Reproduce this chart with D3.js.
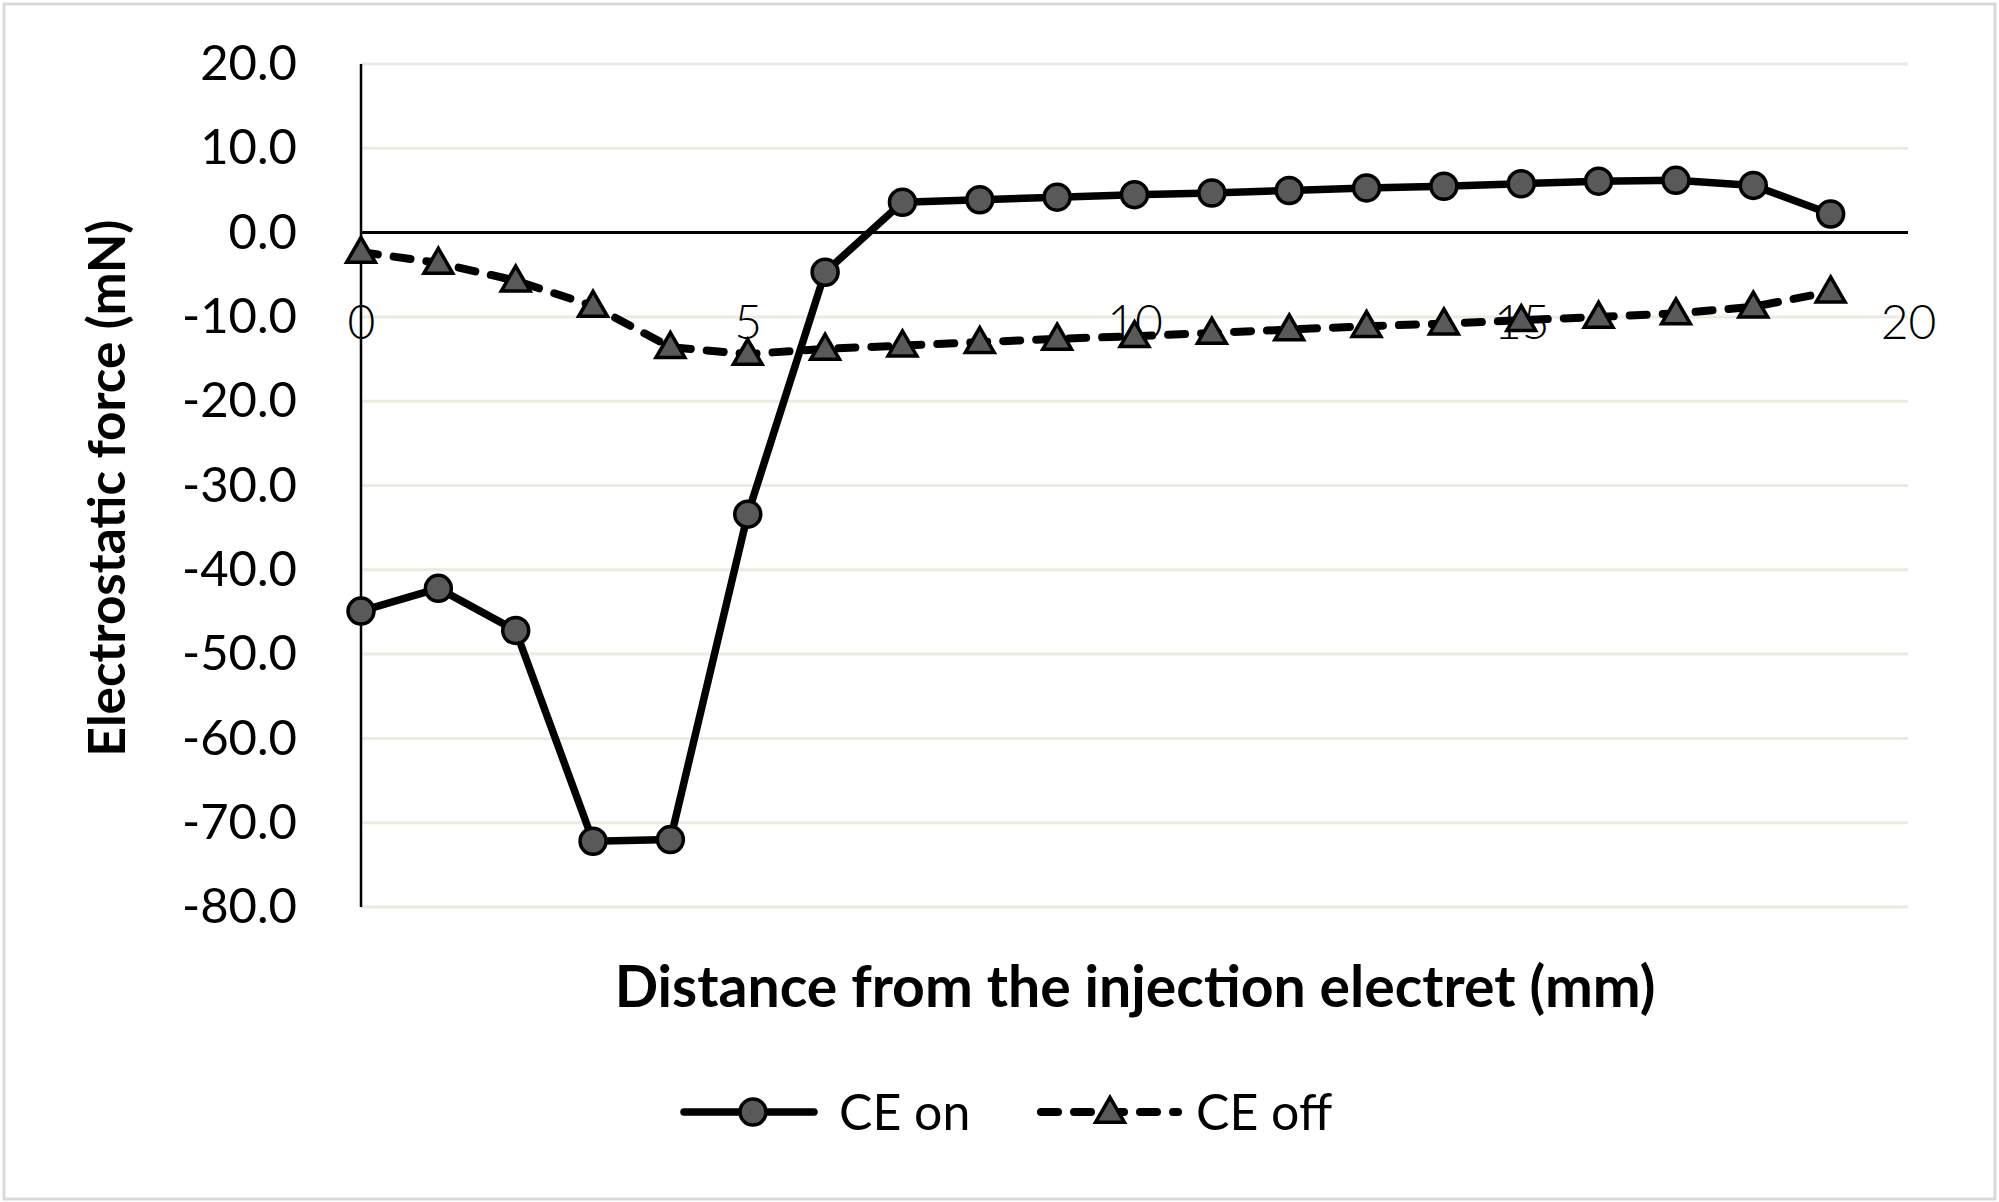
<!DOCTYPE html>
<html><head><meta charset="utf-8">
<script src="https://cdn.jsdelivr.net/npm/d3@7"></script>
<style>html,body{margin:0;padding:0;background:#fff;} svg{display:block;}</style>
</head><body>
<svg id="chart" width="1999" height="1202"></svg>
<script>
const distances = d3.range(0, 20);
const ceOn  = [-44.9, -42.2, -47.2, -72.2, -72.0, -33.4, -4.7, 3.6, 3.9, 4.2, 4.5, 4.7, 5.0, 5.3, 5.5, 5.8, 6.1, 6.2, 5.6, 2.2];
const ceOff = [-2.3, -3.6, -5.7, -8.7, -13.6, -14.4, -13.8, -13.4, -13.0, -12.6, -12.3, -11.9, -11.5, -11.1, -10.8, -10.4, -10.0, -9.6, -8.8, -7.0];
const seriesNames = ["CE on", "CE off"];
const yTicks = [20, 10, 0, -10, -20, -30, -40, -50, -60, -70, -80];
const xTicks = [0, 5, 10, 15, 20];
const xTitle = "Distance from the injection electret (mm)";
const yTitle = "Electrostatic force (mN)";

const svg = d3.select("#chart");
const FONT = "Lato, 'Open Sans', sans-serif";

svg.append("rect").attr("x", 4).attr("y", 4).attr("width", 1991).attr("height", 1195)
  .attr("fill", "#fff").attr("stroke", "#d9d9d9").attr("stroke-width", 3);

const x = d3.scaleLinear().domain([0, 20]).range([361, 1908]);
const y = d3.scaleLinear().domain([-80, 20]).range([907, 64]);

// gridlines
svg.append("g").selectAll("line").data(yTicks.filter(d => d !== 0)).join("line")
  .attr("x1", x(0)).attr("x2", x(20)).attr("y1", d => y(d)).attr("y2", d => y(d))
  .attr("stroke", "#ebebe0").attr("stroke-width", 3);

// y tick labels
const yAxis = d3.axisLeft(y).tickValues(yTicks).tickFormat(d3.format(".1f")).tickSize(0).tickPadding(64);
const gy = svg.append("g").attr("transform", `translate(${x(0)},0)`).call(yAxis);
gy.select(".domain").remove();
gy.selectAll("text").attr("font-family", FONT).attr("font-size", 49).attr("fill", "#000")
  .text(d => d3.format(".1f")(d).replace("−", "-"));

// y axis line
svg.append("line").attr("x1", x(0)).attr("x2", x(0)).attr("y1", y(20)).attr("y2", y(-80))
  .attr("stroke", "#000").attr("stroke-width", 2.5);
// zero line
svg.append("line").attr("x1", x(0)).attr("x2", x(20)).attr("y1", y(0)).attr("y2", y(0))
  .attr("stroke", "#000").attr("stroke-width", 3);

// x tick labels (placed around -10 level as in reference)
const xAxis = d3.axisBottom(x).tickValues(xTicks).tickFormat(d3.format("d")).tickSize(0).tickPadding(0);
const gx = svg.append("g").attr("transform", `translate(0,${y(-10) + 5})`).call(xAxis);
gx.select(".domain").remove();
gx.selectAll("text").attr("font-family", FONT).attr("font-size", 48).attr("font-weight", 300)
  .attr("fill", "#000").attr("dy", "0.35em").attr("y", 0);

// lines
const lineGen = d3.line().x((d, i) => x(distances[i])).y(d => y(d));
svg.append("path").datum(ceOn).attr("d", lineGen).attr("fill", "none")
  .attr("stroke", "#000").attr("stroke-width", 7.5).attr("stroke-linejoin", "round");
svg.append("path").datum(ceOff).attr("d", lineGen).attr("fill", "none")
  .attr("stroke", "#000").attr("stroke-width", 8).attr("stroke-dasharray", "17,16")
  .attr("stroke-linecap", "round");

const MFILL = "#595959";
const tri = d3.symbol().type(d3.symbolTriangle).size(360);

svg.append("g").selectAll("circle").data(ceOn).join("circle")
  .attr("cx", (d, i) => x(distances[i])).attr("cy", d => y(d)).attr("r", 13)
  .attr("fill", MFILL).attr("stroke", "#000").attr("stroke-width", 3.5);

svg.append("g").selectAll("path").data(ceOff).join("path")
  .attr("d", tri).attr("transform", (d, i) => `translate(${x(distances[i])},${y(d) + 2})`)
  .attr("fill", MFILL).attr("stroke", "#000").attr("stroke-width", 3.5).attr("stroke-linejoin", "miter");

// axis titles
function fitText(sel, target) {
  const w = sel.node().getComputedTextLength();
  const fs = parseFloat(sel.attr("font-size"));
  sel.attr("font-size", fs * target / w);
}
const xt = svg.append("text").attr("x", 1135).attr("y", 1007).attr("text-anchor", "middle")
  .attr("font-family", FONT).attr("font-weight", 700).attr("font-size", 54).attr("fill", "#000").text(xTitle);
fitText(xt, 1041);
const yt = svg.append("text").attr("transform", "translate(125,488) rotate(-90)").attr("text-anchor", "middle")
  .attr("font-family", FONT).attr("font-weight", 700).attr("font-size", 54).attr("fill", "#000").text(yTitle);
fitText(yt, 537);

// legend
const lg = svg.append("g");
const ly = 1112;
lg.append("line").attr("x1", 684).attr("x2", 814).attr("y1", ly).attr("y2", ly)
  .attr("stroke", "#000").attr("stroke-width", 7.5).attr("stroke-linecap", "round");
lg.append("circle").attr("cx", 753).attr("cy", ly).attr("r", 13)
  .attr("fill", MFILL).attr("stroke", "#000").attr("stroke-width", 3.5);
lg.append("text").attr("x", 839).attr("y", ly).attr("dy", "0.35em").attr("font-family", FONT)
  .attr("font-size", 50).attr("fill", "#000").text(seriesNames[0]);
lg.append("line").attr("x1", 1041).attr("x2", 1178).attr("y1", ly).attr("y2", ly)
  .attr("stroke", "#000").attr("stroke-width", 8).attr("stroke-dasharray", "17,16")
  .attr("stroke-linecap", "round");
lg.append("path").attr("d", tri).attr("transform", `translate(1110,${ly + 2})`)
  .attr("fill", MFILL).attr("stroke", "#000").attr("stroke-width", 3.5);
lg.append("text").attr("x", 1196).attr("y", ly).attr("dy", "0.35em").attr("font-family", FONT)
  .attr("font-size", 50).attr("fill", "#000").text(seriesNames[1]);
</script>
</body></html>
